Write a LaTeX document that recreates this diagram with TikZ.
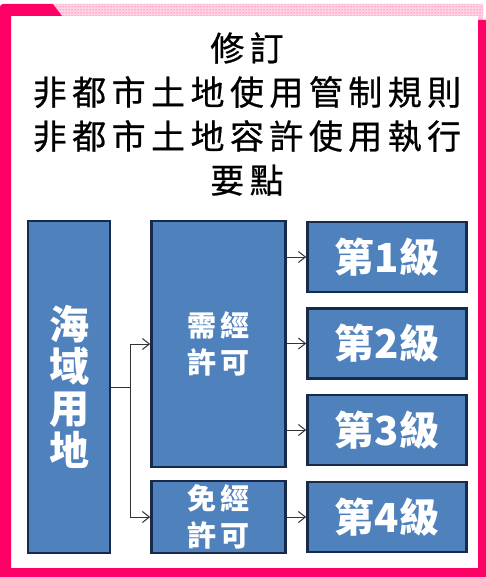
\documentclass[tikz,border=0pt]{standalone}
\usepackage{fontspec}
\setmainfont{Noto Sans CJK TC}
\usetikzlibrary{arrows.meta,patterns}
\definecolor{framepink}{HTML}{FF0066}
\definecolor{boxfill}{HTML}{4F81BD}
\definecolor{boxline}{HTML}{172A4A}
\definecolor{linegray}{HTML}{333333}
\tikzset{
  bluebox/.style={draw=boxline, line width=2.6pt, fill=boxfill, text=white, inner sep=0pt, align=center, font=\bfseries},
  levelbox/.style={bluebox, minimum width=159pt, minimum height=70pt, font=\bfseries\fontsize{40}{44}\selectfont},
  permitbox/.style={bluebox, minimum width=134pt, font=\bfseries\addfontfeature{LetterSpace=14}\fontsize{29}{37}\selectfont},
  conn/.style={draw=linegray, line width=1pt},
  arr/.style={conn, -{Straight Barb[length=7pt,width=11pt]}},
}
\begin{document}
\begin{tikzpicture}[x=1pt,y=-1pt]
\useasboundingbox (0,0) rectangle (486,577);
\fill[white] (0,0) rectangle (486,577);
% pink frame
\fill[framepink!18] (53,4) -- (483,4) -- (483,20) -- (478,20) -- (478,16) -- (62,16) -- cycle;
\fill[pattern=dots, pattern color=framepink!75] (53,4) -- (483,4) -- (483,20) -- (478,20) -- (478,16) -- (62,16) -- cycle;
\fill[framepink] (0,16) -- (0,8) [rounded corners=3pt] -- (0,4) [sharp corners] -- (53,4) -- (62,16) -- (11,16) -- (11,568) -- (478,568) -- (478,20) -- (486,20) -- (486,577) -- (0,577) -- cycle;
% title
\node[align=center, font=\addfontfeature{LetterSpace=16,FakeBold=0.6}\fontsize{34}{44}\selectfont] (title) at (247,114)
  {修訂\\非都市土地使用管制規則\\非都市土地容許使用執行\\要點};
% boxes
\node[bluebox, minimum width=82pt, minimum height=332pt, font=\bfseries\fontsize{40}{42}\selectfont] (sea) at (69,387) {海\\域\\用\\地};
\node[permitbox, minimum height=246pt] (need) at (218.5,344) {需經\\許可};
\node[permitbox, minimum height=72pt] (free) at (218.5,517) {免經\\許可};
\node[levelbox] (g1) at (387,257) {第1級};
\node[levelbox] (g2) at (387,343.5) {第2級};
\node[levelbox] (g3) at (387,430) {第3級};
\node[levelbox] (g4) at (387,517) {第4級};
% connectors
\coordinate (j) at (130,387);
\draw[conn] (sea.east |- j) -- (j);
\draw[arr] (j) |- (need.west);
\draw[arr] (j) |- (free.west);
\draw[arr] (need.east |- g1.west) -- (g1.west);
\draw[arr] (need.east |- g2.west) -- (g2.west);
\draw[arr] (need.east |- g3.west) -- (g3.west);
\draw[arr] (free.east) -- (g4.west);
\end{tikzpicture}
\end{document}
